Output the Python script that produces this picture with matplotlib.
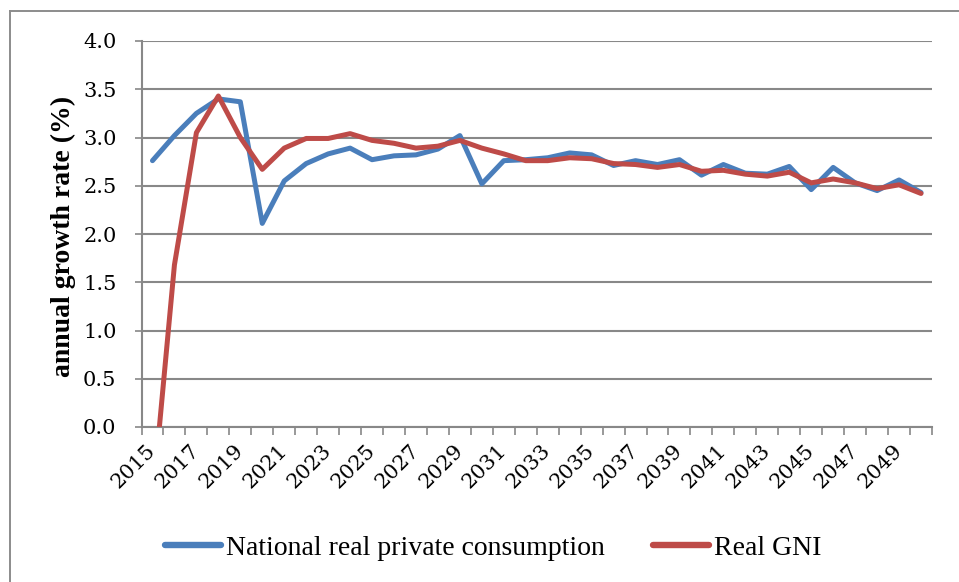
import matplotlib
matplotlib.use("Agg")
import matplotlib.pyplot as plt
from matplotlib.lines import Line2D
import numpy as np

years = list(range(2015, 2051))
consumption = [2.76, 3.02, 3.25, 3.40, 3.37, 2.11, 2.55, 2.73, 2.83, 2.89,
               2.77, 2.81, 2.82, 2.88, 3.02, 2.52, 2.76, 2.77, 2.79, 2.84,
               2.82, 2.71, 2.76, 2.72, 2.77, 2.61, 2.72, 2.63, 2.62, 2.70,
               2.46, 2.69, 2.53, 2.45, 2.56, 2.43]
gni = [-0.77, 1.68, 3.05, 3.43, 3.00, 2.67, 2.89, 2.99, 2.99, 3.04,
       2.97, 2.94, 2.89, 2.91, 2.97, 2.89, 2.83, 2.76, 2.76, 2.79,
       2.78, 2.73, 2.72, 2.69, 2.72, 2.65, 2.66, 2.62, 2.60, 2.64,
       2.53, 2.57, 2.53, 2.47, 2.51, 2.42]
y_ticks = [0.0, 0.5, 1.0, 1.5, 2.0, 2.5, 3.0, 3.5, 4.0]
series_names = ["National real private consumption", "Real GNI"]

BLUE = "#4A7EBB"
RED = "#BE4B48"
GRID = "#888888"
TEXT_FONT = "Liberation Serif"
NUM_FONT = "DejaVu Serif"

W, H = 959, 582
fig = plt.figure(figsize=(W / 100, H / 100), dpi=100)

# outer chart frame (top and left edges)
fig.add_artist(Line2D([10 / W, 10 / W], [0, 1 - 11 / H], color="#8c8c8c", lw=1.4,
                      transform=fig.transFigure))
fig.add_artist(Line2D([10 / W, 1], [1 - 11 / H, 1 - 11 / H], color="#8c8c8c", lw=1.4,
                      transform=fig.transFigure))

left, right, top, bottom = 141.5, 932, 41, 427
ax = fig.add_axes([left / W, 1 - bottom / H, (right - left) / W, (bottom - top) / H])

x = np.arange(len(years))
ax.plot(x, consumption, color=BLUE, lw=3.6, solid_capstyle="round",
        solid_joinstyle="round", label=series_names[0], zorder=3)
ax.plot(x, gni, color=RED, lw=3.6, solid_capstyle="round",
        solid_joinstyle="round", label=series_names[1], zorder=4)

ax.set_xlim(-0.5, len(years) - 0.5)
ax.set_ylim(0, 4)

# horizontal gridlines
ax.set_yticks(y_ticks)
ax.set_yticklabels([f"{v:.1f}" for v in y_ticks], fontsize=15, family=NUM_FONT)
ax.yaxis.grid(True, color=GRID, lw=1.5)
ax.set_axisbelow(True)
ax.tick_params(axis="y", length=5, width=1.2, color=GRID, pad=13)

# category boundaries as major ticks, labels on every second category
ax.set_xticks(np.arange(-0.5, len(years), 1.0))
ax.set_xticklabels([])
ax.tick_params(axis="x", which="major", length=6, width=1.2, color=GRID)
label_pos = x[::2]
ax.set_xticks(label_pos, minor=True)
ax.set_xticklabels([str(years[i]) for i in label_pos], minor=True,
                   fontsize=15, family=NUM_FONT)
ax.tick_params(axis="x", which="minor", length=0, pad=15)
for lbl in ax.get_xticklabels(minor=True):
    lbl.set_rotation(45)
    lbl.set_ha("right")
    lbl.set_va("center")
    lbl.set_rotation_mode("anchor")

for s in ("top", "right"):
    ax.spines[s].set_visible(False)
for s in ("left", "bottom"):
    ax.spines[s].set_color(GRID)
    ax.spines[s].set_linewidth(1.5)

fig.text(63 / W, 1 - 236 / H, "annual growth rate (%)", rotation=90,
         ha="center", va="center", fontsize=20, fontweight="bold", family=TEXT_FONT)

handles = [Line2D([], [], color=BLUE, lw=4.6, solid_capstyle="round"),
           Line2D([], [], color=RED, lw=4.6, solid_capstyle="round")]
fig.legend(handles, series_names, loc="center", bbox_to_anchor=(493 / W, 1 - 548 / H),
           ncol=2, frameon=False, prop={"family": TEXT_FONT, "size": 20},
           handlelength=2.0, handletextpad=0.18, columnspacing=1.75)

fig.savefig("out.png", dpi=100)
